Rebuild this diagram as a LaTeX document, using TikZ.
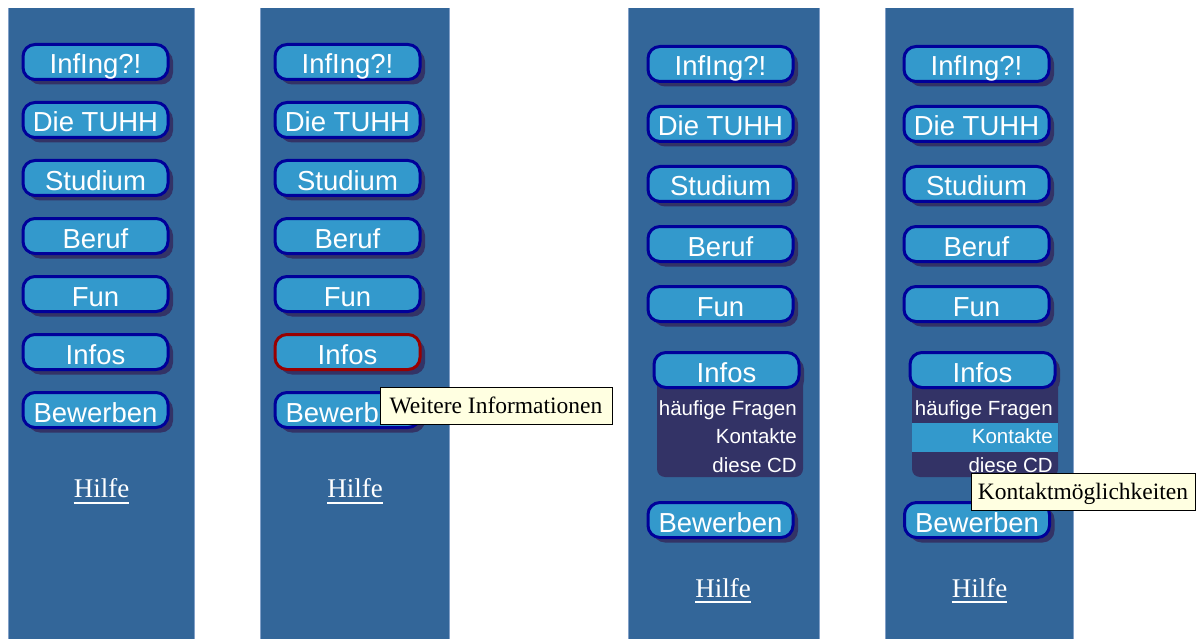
\documentclass[tikz,border=0pt]{standalone}
\usepackage{fontspec}
\setmainfont{Liberation Serif}
\setsansfont{Liberation Sans}
\usetikzlibrary{shadows}
\definecolor{panelc}{RGB}{51,102,153}
\definecolor{paneledge}{RGB}{130,160,200}
\definecolor{btnfill}{RGB}{51,153,204}
\definecolor{btnborder}{RGB}{0,0,153}
\definecolor{shadowc}{RGB}{51,51,102}
\definecolor{redb}{RGB}{153,0,0}
\definecolor{tipbg}{RGB}{255,255,225}
\begin{document}
\begin{tikzpicture}[x=1pt,y=-1pt,
  btn/.style={rectangle, rounded corners=12pt, draw=btnborder, line width=3pt,
    fill=btnfill, minimum width=145pt, minimum height=35pt, inner sep=0pt,
    text=white, font=\sffamily\fontsize{27.5}{28}\selectfont,
    text height=24pt, text depth=0pt,
    general shadow={fill=shadowc, draw=none, shadow xshift=5pt, shadow yshift=-5pt}},
  hot/.style={draw=redb},
  hilfe/.style={anchor=base, inner sep=0pt, text=white, font=\fontsize{27}{27}\selectfont},
  uline/.style={draw=white, line width=2pt},
  tip/.style={rectangle, draw=black, line width=1pt, fill=tipbg, inner sep=0pt,
    minimum height=37pt, font=\fontsize{23.5}{24}\selectfont,
    text height=16pt, text depth=0pt},
  dd/.style={anchor=base east, inner sep=0pt, text=white, font=\sffamily\fontsize{20.5}{21}\selectfont},
  panel/.style={fill=panelc},
  edge/.style={draw=paneledge, line width=1pt}
]
\useasboundingbox (0,0) rectangle (1196,639);
\fill[white] (0,0) rectangle (1196,639);

% panels
\fill[panel] (8,8) rectangle (195,639);
\fill[panel] (260,8) rectangle (450,639);
\fill[panel] (628,8) rectangle (820,639);
\fill[panel] (885,8) rectangle (1074,639);
\foreach \xa/\xb in {8/195, 260/450, 628/820, 885/1074}{
  \draw[edge] (\xa+0.5,8) -- (\xa+0.5,639);
  \draw[edge] (\xb-0.5,8) -- (\xb-0.5,639);
}

% panel 1
\foreach \t [count=\i] in {InfIng?!, Die TUHH, Studium, Beruf, Fun, Infos, Bewerben}{
  \node[btn] (a\i) at (95.5, 62+58*\i-58) {\t};
}
\node[hilfe] (ha) at (101.5,497) {Hilfe};
\draw[uline] ([yshift=-6pt]ha.base west) -- ([yshift=-6pt]ha.base east);

% panel 2
\foreach \t [count=\i] in {InfIng?!, Die TUHH, Studium, Beruf, Fun}{
  \node[btn] (b\i) at (347.5, 62+58*\i-58) {\t};
}
\node[btn, hot] (b6) at (347.5, 352) {Infos};
\node[btn] (b7) at (347.5, 410) {Bewerben};
\node[hilfe] (hb) at (355,497) {Hilfe};
\draw[uline] ([yshift=-6pt]hb.base west) -- ([yshift=-6pt]hb.base east);
\node[tip, minimum width=232pt] (tb) at (496,405.5) {Weitere Informationen};

% panel 3
\foreach \t [count=\i] in {InfIng?!, Die TUHH, Studium, Beruf, Fun}{
  \node[btn] (c\i) at (720.5, 64+60*\i-60) {\t};
}
\fill[shadowc, rounded corners=8pt] (657,360) -- (657,477) -- (803,477) -- (803,360) -- cycle;
\node[btn] (c6) at (726.5, 370) {Infos};
\node[dd] (c6a) at (797,415) {häufige Fragen};
\node[dd] (c6b) at (797,443) {Kontakte};
\node[dd] (c6c) at (797,472) {diese CD};
\node[btn] (c7) at (720.5, 520) {Bewerben};
\node[hilfe] (hc) at (723,597) {Hilfe};
\draw[uline] ([yshift=-5pt]hc.base west) -- ([yshift=-5pt]hc.base east);

% panel 4
\foreach \t [count=\i] in {InfIng?!, Die TUHH, Studium, Beruf, Fun}{
  \node[btn] (d\i) at (976.5, 64+60*\i-60) {\t};
}
\fill[shadowc, rounded corners=8pt] (912,360) -- (912,477) -- (1058,477) -- (1058,360) -- cycle;
\fill[btnfill] (912,423) rectangle (1058,452);
\node[btn] (d6) at (982.5, 370) {Infos};
\node[dd] (d6a) at (1053,415) {häufige Fragen};
\node[dd] (d6b) at (1053,443) {Kontakte};
\node[dd] (d6c) at (1053,472) {diese CD};
\node[btn] (d7) at (977, 520) {Bewerben};
\node[hilfe] (hd) at (979.5,597) {Hilfe};
\draw[uline] ([yshift=-5pt]hd.base west) -- ([yshift=-5pt]hd.base east);
\node[tip, minimum width=224pt] (td) at (1083,491.5) {Kontaktmöglichkeiten};
\end{tikzpicture}
\end{document}
